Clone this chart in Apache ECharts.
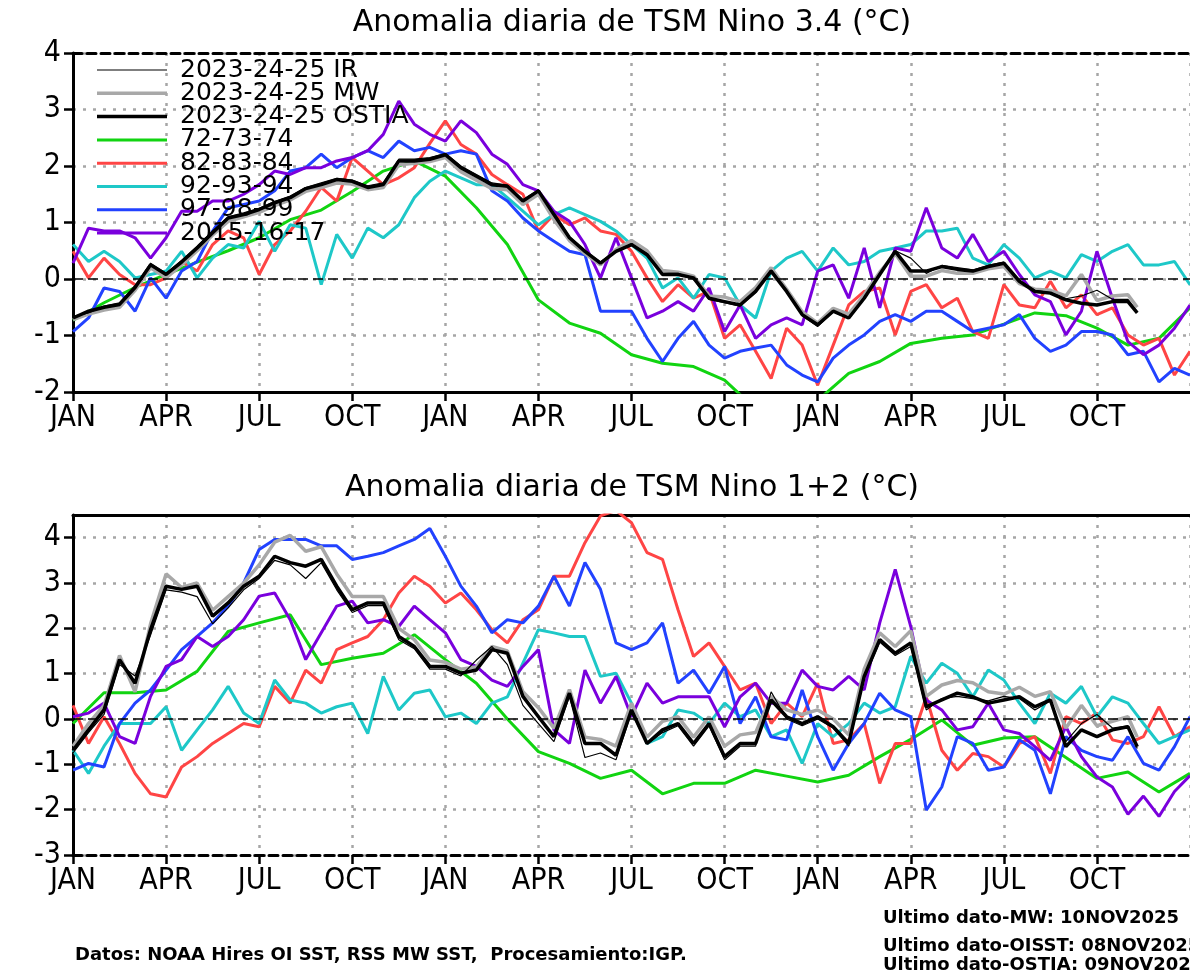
<!DOCTYPE html>
<html>
<head>
<meta charset="utf-8">
<script src="https://cdn.jsdelivr.net/npm/echarts@6/dist/echarts.min.js"></script>
<style>html,body{margin:0;padding:0;background:#fff}#c{width:1190px;height:975px}</style>
</head>
<body>
<div id="c"></div>
<script>
// ---------- DATA ----------
const monthLabels = ['JAN','APR','JUL','OCT'];
const seriesNames = ['2023-24-25 IR','2023-24-25 MW','2023-24-25 OSTIA','72-73-74','82-83-84','92-93-94','97-98-99','2015-16-17'];
// x positions (months since JAN of first year)
const monthsAll = Array.from({length:73},(_,i)=>i/2);          // 0 .. 36 every half month
const monthsObs = Array.from({length:69},(_,i)=>i/2).concat([34.3]); // observed 2023-24-25 up to NOV
const monthsGreen = Array.from({length:37},(_,i)=>i);            // monthly 72-73-74

// ===== Nino 3.4 =====
const n34_ir = [-0.66,-0.6,-0.48,-0.42,-0.12,0.28,0.1,0.33,0.58,0.85,
 1.1,1.17,1.25,1.37,1.47,1.62,1.7,1.78,1.75,1.65,
 1.7,2.12,2.12,2.15,2.22,2.0,1.85,1.7,1.66,1.4,
 1.58,1.16,0.75,0.5,0.3,0.5,0.62,0.45,0.1,0.1,
 0.0,-0.36,-0.42,-0.48,-0.24,0.16,-0.2,-0.65,-0.84,-0.58,
 -0.7,-0.35,0.1,0.5,0.37,0.1,0.24,0.2,0.16,0.24,
 0.3,-0.02,-0.2,-0.24,-0.35,-0.3,-0.2,-0.36,-0.36,-0.58];
const n34_mw = [-0.72,-0.62,-0.55,-0.5,-0.2,0.2,0.02,0.25,0.5,0.78,
 1.02,1.1,1.18,1.3,1.4,1.55,1.62,1.7,1.68,1.58,
 1.62,2.02,2.05,2.08,2.15,1.9,1.75,1.6,1.58,1.32,
 1.5,1.05,0.68,0.45,0.25,0.52,0.68,0.5,0.15,0.12,
 0.05,-0.3,-0.32,-0.4,-0.15,0.2,-0.18,-0.58,-0.78,-0.52,
 -0.62,-0.28,0.12,0.45,0.05,0.05,0.15,0.1,0.1,0.18,
 0.22,-0.08,-0.18,-0.2,-0.3,0.08,-0.38,-0.3,-0.28,-0.5];
const n34_ostia = [-0.69,-0.57,-0.5,-0.45,-0.15,0.25,0.08,0.3,0.55,0.82,
 1.08,1.14,1.23,1.35,1.44,1.6,1.67,1.76,1.73,1.62,
 1.67,2.09,2.09,2.12,2.2,1.97,1.82,1.67,1.64,1.38,
 1.56,1.14,0.73,0.49,0.28,0.49,0.61,0.43,0.08,0.08,
 0.02,-0.34,-0.4,-0.46,-0.22,0.14,-0.22,-0.63,-0.81,-0.57,
 -0.69,-0.34,0.08,0.49,0.14,0.14,0.22,0.17,0.14,0.22,
 0.28,-0.04,-0.22,-0.25,-0.37,-0.43,-0.46,-0.4,-0.4,-0.6];
const n34_7274 = [-0.73,-0.42,-0.15,0.08,0.3,0.5,0.73,1.05,1.22,1.55,
 1.91,2.09,1.82,1.26,0.61,-0.37,-0.78,-0.96,-1.34,-1.49,
 -1.55,-1.79,-2.3,-2.6,-2.15,-1.67,-1.46,-1.14,-1.05,-0.99,
 -0.8,-0.6,-0.65,-0.87,-1.17,-1.05,-0.51];
const n34_8284 = [0.49,0.02,0.37,0.08,-0.1,-0.1,0.02,0.31,0.14,0.61,
 0.85,0.73,0.08,0.61,0.85,1.2,1.62,1.38,2.15,1.91,
 1.67,1.79,1.97,2.4,2.8,2.38,2.21,1.85,1.67,1.5,
 0.85,1.14,0.96,1.08,0.85,0.79,0.49,0.02,-0.4,-0.1,
 -0.34,-0.22,-1.05,-0.81,-1.28,-1.76,-0.87,-1.17,-1.88,-1.17,
 -0.46,-0.22,-0.16,-0.99,-0.22,-0.1,-0.51,-0.34,-0.93,-1.05,
 -0.1,-0.46,-0.51,-0.04,-0.51,-0.28,-0.63,-0.51,-0.99,-1.17,
 -1.05,-1.7,-1.28];
const n34_9294 = [0.61,0.31,0.49,0.31,0.02,0.08,0.14,0.49,0.02,0.37,
 0.61,0.55,1.02,0.49,0.96,0.9,-0.1,0.79,0.37,0.9,
 0.73,0.96,1.44,1.73,1.91,1.79,1.67,1.67,1.44,1.2,
 0.96,1.14,1.26,1.14,1.02,0.85,0.61,0.37,-0.16,0.02,
 -0.34,0.08,0.02,-0.46,-0.69,0.14,0.37,0.49,0.14,0.55,
 0.25,0.31,0.49,0.55,0.61,0.85,0.85,0.9,0.37,0.25,
 0.61,0.37,0.02,0.14,0.02,0.43,0.31,0.49,0.61,0.25,
 0.25,0.31,-0.1];
const n34_9799 = [-0.93,-0.69,-0.16,-0.22,-0.57,0.02,-0.34,0.14,0.31,0.85,
 1.26,1.32,1.38,1.56,1.91,1.97,2.21,1.97,2.15,2.27,
 2.15,2.44,2.27,2.33,2.21,2.27,2.21,1.56,1.38,1.08,
 0.85,0.67,0.49,0.43,-0.57,-0.57,-0.57,-1.05,-1.46,-1.05,
 -0.75,-1.17,-1.4,-1.28,-1.22,-1.17,-1.52,-1.7,-1.82,-1.4,
 -1.17,-0.99,-0.75,-0.63,-0.75,-0.57,-0.57,-0.75,-0.93,-0.87,
 -0.81,-0.63,-1.05,-1.28,-1.17,-0.93,-0.93,-0.99,-1.34,-1.28,
 -1.82,-1.58,-1.7];
const n34_1517 = [0.28,0.9,0.85,0.85,0.73,0.37,0.73,1.2,1.2,1.38,
 1.38,1.5,1.67,1.91,1.85,1.97,1.97,2.09,2.15,2.27,
 2.56,3.15,2.74,2.56,2.44,2.8,2.59,2.21,2.03,1.67,
 1.56,1.2,1.02,0.61,0.02,0.73,0.02,-0.69,-0.57,-0.4,
 -0.57,-0.16,-0.93,-0.46,-1.05,-0.81,-0.69,-0.81,0.14,0.25,
 -0.34,0.55,-0.51,0.55,0.49,1.26,0.55,0.37,0.79,0.31,
 0.49,0.08,-0.28,-0.4,-0.99,-0.57,0.49,-0.34,-1.11,-1.34,
 -1.17,-0.87,-0.46];

// ===== Nino 1+2 =====
const n12_ir = [-0.75,-0.3,0.1,1.2,0.95,1.85,2.85,2.8,2.7,2.1,
 2.45,2.85,3.1,3.5,3.4,3.1,3.45,2.85,2.35,2.5,
 2.5,1.75,1.55,1.1,1.1,0.95,1.3,1.6,1.2,0.3,
 -0.1,-0.5,0.5,-0.85,-0.75,-0.9,0.15,-0.55,-0.3,-0.15,
 -0.6,-0.15,-0.9,-0.6,-0.6,0.6,0.0,-0.15,0.0,-0.2,
 -0.6,0.9,1.7,1.4,1.6,0.2,0.45,0.5,0.45,0.4,
 0.5,0.45,0.2,0.4,-0.5,-0.1,0.1,-0.2,-0.15,-0.65];
const n12_mw = [-0.6,-0.1,0.3,1.4,0.6,2.1,3.2,2.9,3.0,2.4,
 2.7,3.0,3.4,3.9,4.05,3.7,3.8,3.2,2.7,2.7,
 2.7,2.0,1.75,1.3,1.25,1.1,1.15,1.6,1.5,0.6,
 0.25,-0.2,0.65,-0.4,-0.45,-0.6,0.35,-0.4,-0.05,0.05,
 -0.4,0.05,-0.6,-0.35,-0.3,0.5,0.2,0.1,0.2,0.0,
 -0.35,1.1,1.9,1.6,1.95,0.5,0.75,0.85,0.8,0.6,
 0.55,0.7,0.5,0.6,-0.2,0.3,-0.15,-0.05,0.05,-0.4];
const n12_ostia = [-0.69,-0.24,0.2,1.31,0.79,1.97,2.93,2.86,2.93,2.27,
 2.56,2.93,3.15,3.59,3.45,3.37,3.52,2.93,2.41,2.56,
 2.56,1.82,1.6,1.16,1.16,1.01,1.08,1.53,1.45,0.5,
 0.05,-0.39,0.57,-0.54,-0.54,-0.8,0.2,-0.54,-0.24,-0.1,
 -0.54,-0.1,-0.83,-0.54,-0.54,0.42,0.05,-0.1,0.05,-0.17,
 -0.54,0.94,1.75,1.45,1.68,0.27,0.42,0.57,0.49,0.35,
 0.42,0.49,0.27,0.42,-0.61,-0.24,-0.39,-0.24,-0.17,-0.61];
const n12_7274 = [-0.1,0.58,0.58,0.64,1.05,1.93,2.12,2.3,1.2,1.34,
 1.45,1.86,1.31,0.79,0.0,-0.72,-0.98,-1.31,-1.13,-1.65,
 -1.42,-1.42,-1.13,-1.26,-1.39,-1.24,-0.83,-0.45,-0.02,-0.58,
 -0.42,-0.39,-0.85,-1.31,-1.17,-1.61,-1.2];
const n12_8284 = [0.3,-0.54,0.05,-0.54,-1.2,-1.65,-1.72,-1.06,-0.83,-0.54,
 -0.32,-0.1,-0.17,0.72,0.35,1.08,0.79,1.53,1.68,1.82,
 2.19,2.78,3.15,2.93,2.56,2.78,2.41,1.97,1.68,2.19,
 2.41,3.15,3.15,3.89,4.48,4.6,4.33,3.67,3.52,2.41,
 1.38,1.68,1.16,0.64,0.79,-0.1,0.35,0.05,0.79,-0.54,
 -0.46,-0.1,-1.42,-0.54,-0.54,0.49,-0.69,-1.13,-0.76,-0.83,
 -1.06,-0.54,-0.39,-1.2,0.05,-0.1,0.13,-0.46,-0.54,-0.39,
 0.27,-0.39,-0.17];
const n12_9294 = [-0.69,-1.2,-0.6,-0.1,-0.1,-0.1,0.27,-0.69,-0.24,0.2,
 0.72,0.13,-0.1,0.86,0.42,0.35,0.13,0.27,0.35,-0.32,
 0.94,0.2,0.57,0.64,0.05,0.13,-0.1,0.35,0.49,1.23,
 1.97,1.9,1.82,1.82,0.94,1.01,0.35,-0.54,-0.39,0.2,
 0.13,-0.1,0.35,0.05,0.2,-0.39,-0.24,-0.98,-0.1,-0.39,
 -0.1,0.35,0.13,0.27,1.38,0.79,1.23,1.01,0.49,1.08,
 0.86,0.35,-0.1,0.57,0.35,0.72,0.05,0.49,0.35,-0.1,
 -0.54,-0.39,-0.24];
const n12_9799 = [-1.13,-0.98,-1.06,-0.1,0.35,0.64,1.08,1.53,1.82,2.12,
 2.49,3.0,3.74,3.96,3.96,3.96,3.82,3.82,3.52,3.59,
 3.67,3.82,3.96,4.2,3.59,2.93,2.49,1.9,2.19,2.12,
 2.49,3.15,2.49,3.45,2.86,1.68,1.53,1.68,2.12,0.79,
 1.08,0.57,1.16,-0.1,0.49,-0.39,-0.46,0.64,-0.39,-1.13,
 -0.54,-0.1,0.57,0.2,0.05,-2.01,-1.5,-0.39,-0.54,-1.13,
 -1.06,-0.46,-0.69,-1.65,-0.39,-0.69,-0.83,-0.91,-0.39,-0.98,
 -1.13,-0.61,0.05];
const n12_1517 = [0.05,0.13,0.35,-0.39,-0.54,0.5,1.16,1.31,1.82,1.6,
 1.82,2.19,2.71,2.78,2.19,1.31,1.9,2.49,2.6,2.12,
 2.19,2.04,2.49,2.19,1.9,1.31,1.16,0.86,0.72,1.16,
 1.53,-0.24,-0.54,1.08,0.35,0.94,0.05,0.79,0.35,0.49,
 0.49,0.49,-0.17,0.49,0.79,0.35,0.35,1.08,0.72,0.64,
 0.94,0.64,2.12,3.3,2.04,0.42,0.2,-0.24,-0.17,0.35,
 -0.24,-0.32,-0.61,-0.91,-0.17,-0.83,-1.28,-1.5,-2.1,-1.7,
 -2.15,-1.6,-1.25];

// ---------- CHART ----------
const colors = {ir:'#000000', mw:'#a8a8a8', ostia:'#000000', g:'#11d411', r:'#ff4545', c:'#1ec8c8', b:'#2242ff', p:'#7a00dd'};
const pairs = (xs, ys) => xs.map((x,i)=>[x, ys[i]]);
const FONT = '"DejaVu Sans Condensed","DejaVu Sans",sans-serif';

function mk(name, xs, ys, color, width, gi, extra){
  return Object.assign({type:'line', name, xAxisIndex: gi*2, yAxisIndex: gi, data: pairs(xs, ys),
    showSymbol:false, symbol:'none', smooth:false, clip:true, silent:true,
    lineStyle:{color, width}, itemStyle:{color}}, extra||{});
}
const zeroLine = {markLine:{silent:true, symbol:'none', label:{show:false},
  lineStyle:{color:'#000', type:[10,5], width:1.5}, data:[{yAxis:0}]}};

function panelSeries(gi, d){
  return [
    mk(seriesNames[3], monthsGreen, d.g, colors.g, 3, gi, zeroLine),
    mk(seriesNames[4], monthsAll, d.r, colors.r, 3, gi),
    mk(seriesNames[5], monthsAll, d.c, colors.c, 3, gi),
    mk(seriesNames[6], monthsAll, d.b, colors.b, 3, gi),
    mk(seriesNames[7], monthsAll, d.p, colors.p, 3, gi),
    mk(seriesNames[1], monthsObs, d.mw, colors.mw, 3.5, gi),
    mk(seriesNames[2], monthsObs, d.ostia, colors.ostia, 3.5, gi),
    mk(seriesNames[0], monthsObs, d.ir, colors.ir, 1.2, gi)
  ];
}

const splitStyle = {show:true, lineStyle:{color:'#a6a6a6', type:[3,7], width:2.5}};
function xBottom(gi, dashed){
  return {type:'value', gridIndex:gi, position:'bottom', min:0, max:36, interval:3,
    axisLine:{show:true, onZero:false, lineStyle:{color:'#000', width:3, type: dashed?[9,5]:'solid'}},
    axisTick:{show:true, length:9, lineStyle:{color:'#000', width:2.5}},
    axisLabel:{show:true, showMaxLabel:false, margin:11, color:'#000', fontSize:30, fontFamily:FONT,
      formatter: v => monthLabels[Math.round(v/3)%4]},
    splitLine: splitStyle};
}
function xTop(gi, dashed){
  return {type:'value', gridIndex:gi, position:'top', min:0, max:36, interval:3,
    axisLine:{show:true, onZero:false, lineStyle:{color:'#000', width:3, type: dashed?[9,5]:'solid'}},
    axisTick:{show:false}, axisLabel:{show:false}, splitLine:{show:false}};
}
function yAx(gi, min, max){
  return {type:'value', gridIndex:gi, min, max, interval:1,
    axisLine:{show:true, onZero:false, lineStyle:{color:'#000', width:3}},
    axisTick:{show:true, length:9, lineStyle:{color:'#000', width:2.5}},
    axisLabel:{show:true, showMaxLabel: max%1===0, margin:12, color:'#000', fontSize:30, fontFamily:FONT,
      formatter: v => (Math.abs(v%1)<1e-9 ? String(v) : '')},
    splitLine: splitStyle};
}

// legend (drawn as graphics)
const legendRows = [
  [seriesNames[0], colors.ir, 1.2],
  [seriesNames[1], colors.mw, 3.5],
  [seriesNames[2], colors.ostia, 3.5],
  [seriesNames[3], colors.g, 3],
  [seriesNames[4], colors.r, 3],
  [seriesNames[5], colors.c, 3],
  [seriesNames[6], colors.b, 3],
  [seriesNames[7], colors.p, 3]
];
const graphics = [];
legendRows.forEach((row,i)=>{
  const y = 70 + i*23.3;
  graphics.push({type:'line', z:100, shape:{x1:97, y1:y, x2:167, y2:y}, style:{stroke:row[1], lineWidth:row[2]}});
  graphics.push({type:'text', z:100, x:180, y:y, style:{text:row[0], fill:'#000', font:'25px "DejaVu Sans",sans-serif', textVerticalAlign:'middle', verticalAlign:'middle'}});
});
function txt(t, x, y, font, align){
  return {type:'text', z:100, x, y, style:{text:t, fill:'#000', font, textAlign:align||'left', align:align||'left', textVerticalAlign:'middle', verticalAlign:'middle'}};
}
graphics.push(txt('Anomalia diaria de TSM Nino 3.4 (°C)', 632, 23, '30px "DejaVu Sans",sans-serif', 'center'));
graphics.push(txt('Anomalia diaria de TSM Nino 1+2 (°C)', 632, 488, '30px "DejaVu Sans",sans-serif', 'center'));
graphics.push(txt('Datos: NOAA Hires OI SST, RSS MW SST,  Procesamiento:IGP.', 75, 955, 'bold 18px "DejaVu Sans",sans-serif'));
graphics.push(txt('Ultimo dato-MW: 10NOV2025', 883, 918, 'bold 18px "DejaVu Sans",sans-serif'));
graphics.push(txt('Ultimo dato-OISST: 08NOV2025', 883, 946, 'bold 18px "DejaVu Sans",sans-serif'));
graphics.push(txt('Ultimo dato-OSTIA: 09NOV2025', 883, 965, 'bold 18px "DejaVu Sans",sans-serif'));

const chart = echarts.init(document.getElementById('c'), null, {renderer:'canvas'});
chart.setOption({
  backgroundColor:'#ffffff',
  animation:false,
  grid:[{left:73, top:53, width:1120, height:339, containLabel:false},
        {left:73, top:515, width:1120, height:340, containLabel:false}],
  xAxis:[xBottom(0,false), xTop(0,true), xBottom(1,true), xTop(1,false)],
  yAxis:[yAx(0,-2,4), yAx(1,-3,4.5)],
  series: panelSeries(0, {g:n34_7274, r:n34_8284, c:n34_9294, b:n34_9799, p:n34_1517, mw:n34_mw, ostia:n34_ostia, ir:n34_ir})
    .concat(panelSeries(1, {g:n12_7274, r:n12_8284, c:n12_9294, b:n12_9799, p:n12_1517, mw:n12_mw, ostia:n12_ostia, ir:n12_ir})),
  graphic: graphics
});
</script>
</body>
</html>
